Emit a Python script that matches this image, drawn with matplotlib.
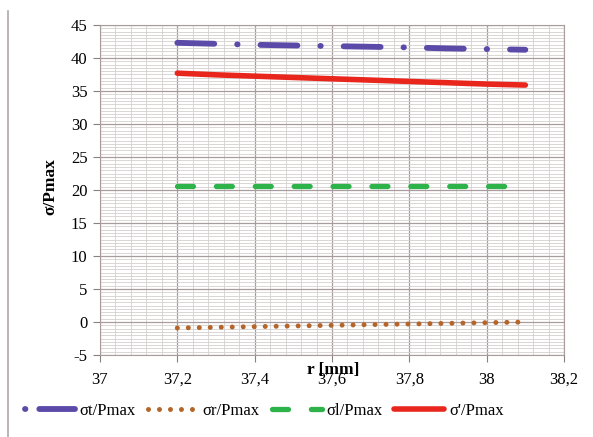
import matplotlib
matplotlib.use("Agg")
import matplotlib.pyplot as plt
from matplotlib.lines import Line2D
from matplotlib.ticker import MultipleLocator, FuncFormatter

plt.rcParams['font.family'] = ['Liberation Serif', 'DejaVu Serif']
plt.rcParams['lines.scale_dashes'] = False
plt.rcParams['axes.unicode_minus'] = False

# data
r = [37.2, 37.3, 37.4, 37.5, 37.6, 37.7, 37.8, 37.9, 38.0, 38.1]
sig_t = [42.3, 42.15, 42.0, 41.9, 41.8, 41.7, 41.6, 41.45, 41.35, 41.25]
sig_r = [-0.9, -0.8, -0.7, -0.6, -0.5, -0.4, -0.3, -0.2, -0.1, 0.0]
sig_l = [20.6, 20.6, 20.6, 20.6, 20.6, 20.6, 20.6, 20.6, 20.6, 20.6]
sig_v = [37.7, 37.45, 37.25, 37.05, 36.85, 36.65, 36.45, 36.25, 36.05, 35.9]
labels = ["σt/Pmax", "σr/Pmax", "σl/Pmax", "σ'/Pmax"]

c_t, c_r, c_l, c_v = '#5b4aa8', '#b5652a', '#2db34a', '#e8261c'
ls_t = (0, (26.6, 16.5, 0.3, 16.5))
ls_r = (0, (0.01, 7.9))
ls_l = (0, (11.5, 16.5))

fig = plt.figure(figsize=(5.93, 4.37), dpi=100)
ax = fig.add_axes([0.1686, 0.1876, 0.7825, 0.7552])

ax.plot(r, sig_t, color=c_t, lw=4.2, dash_capstyle='round', linestyle=ls_t)
ax.plot(r, sig_r, color=c_r, lw=3.6, dash_capstyle='round', linestyle=ls_r)
ax.plot(r, sig_l, color=c_l, lw=3.8, dash_capstyle='round', linestyle=ls_l)
ax.plot(r, sig_v, color=c_v, lw=4.0, solid_capstyle='round')

ax.set_xlim(37, 38.2)
ax.set_ylim(-5, 45)
ax.xaxis.set_major_locator(MultipleLocator(0.2))
ax.xaxis.set_minor_locator(MultipleLocator(0.04))
ax.yaxis.set_major_locator(MultipleLocator(5))
ax.yaxis.set_minor_locator(MultipleLocator(0.5))
ax.xaxis.set_major_formatter(FuncFormatter(lambda v, p: ('%g' % round(v, 1)).replace('.', ',')))

ax.grid(which='major', color='#a89c9c', lw=0.9)
ax.grid(which='minor', color='#d6d0d0', lw=0.6)
ax.set_axisbelow(True)
for s in ax.spines.values():
    s.set_color('#a89c9c')
ax.tick_params(which='minor', length=0)
ax.tick_params(which='major', length=5, color='#8a8080', labelsize=12, pad=4)
ax.tick_params(axis='x', pad=7)

# the x label sits on top of the 37,6 tick label, as in the original
ax.set_xlabel('r [mm]', fontsize=12.5, fontweight='bold')
ax.xaxis.set_label_coords(0.502, -0.022)
ax.set_ylabel('σ/Pmax', fontsize=12.5, fontweight='bold')
ax.yaxis.set_label_coords(-0.09, 0.51)

handles = [
    Line2D([], [], color=c_t, lw=4.2, dash_capstyle='round',
           linestyle=(0, (0.3, 10, 26, 60))),
    Line2D([], [], color=c_r, lw=3.6, dash_capstyle='round', linestyle=ls_r),
    Line2D([], [], color=c_l, lw=3.8, dash_capstyle='round', linestyle=ls_l),
    Line2D([], [], color=c_v, lw=4.0, solid_capstyle='round'),
]
fig.legend(handles, labels, loc='center', bbox_to_anchor=(0.446, 0.06), ncol=4,
           frameon=False, fontsize=12, handlelength=3.0, handletextpad=0.3,
           columnspacing=0.7)

fig.add_artist(Line2D([0.013, 0.013], [0.0, 0.975], color='#b0a8a8', lw=1.2,
                      transform=fig.transFigure))

fig.savefig('out.png', dpi=100)
